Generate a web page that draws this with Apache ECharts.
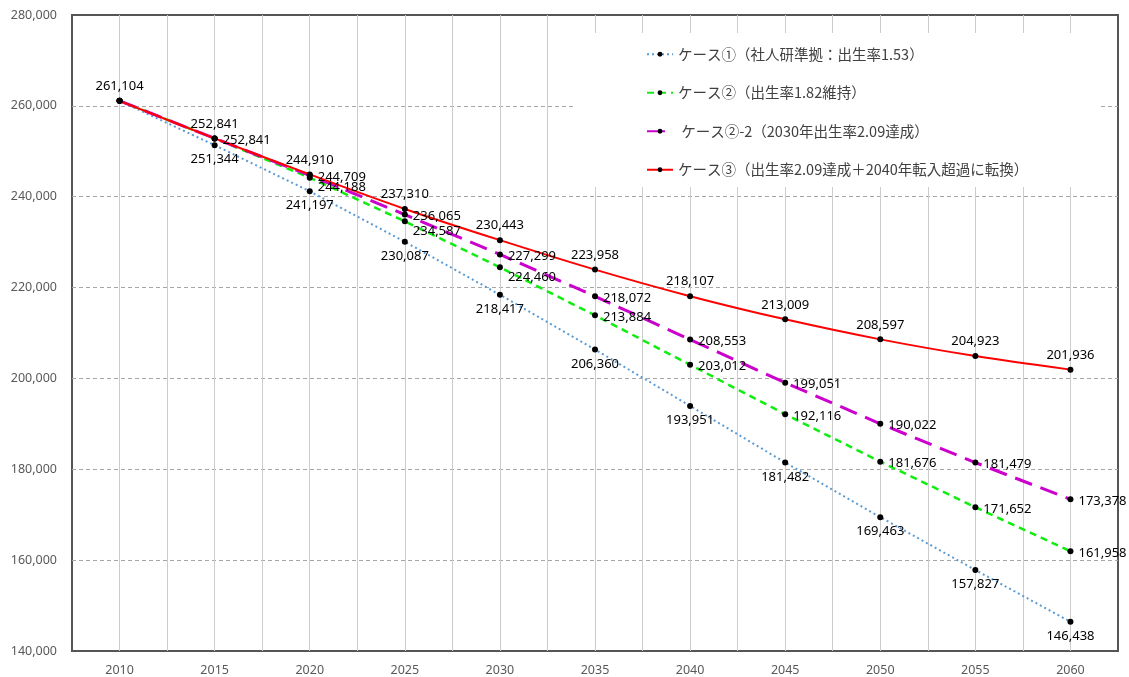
<!DOCTYPE html>
<html>
<head>
<meta charset="utf-8">
<script src="https://cdn.jsdelivr.net/npm/echarts@6/dist/echarts.min.js"></script>
<style>
  html, body { margin: 0; padding: 0; background: #fff; }
  #chart { width: 1129px; height: 677px; }
</style>
</head>
<body>
<div id="chart"></div>
<script>
// Projected population by scenario, 2010–2060
const years = [2010, 2015, 2020, 2025, 2030, 2035, 2040, 2045, 2050, 2055, 2060];

const case1Name = 'ケース①（社人研準拠：出生率1.53）';
const case2Name = 'ケース②（出生率1.82維持）';
const case22Name = ' ケース②-2（2030年出生率2.09達成）';
const case3Name = 'ケース③（出生率2.09達成＋2040年転入超過に転換）';

const case1 = [261104, 251344, 241197, 230087, 218417, 206360, 193951, 181482, 169463, 157827, 146438];
const case2 = [261104, 252841, 244188, 234587, 224460, 213884, 203012, 192116, 181676, 171652, 161958];
const case22 = [261104, 252841, 244709, 236065, 227299, 218072, 208553, 199051, 190022, 181479, 173378];
const case3 = [261104, 252841, 244910, 237310, 230443, 223958, 218107, 213009, 208597, 204923, 201936];

const yMin = 140000, yMax = 280000, yStep = 20000;

const fmt = v => v.toLocaleString('en-US');
const labelFont = { fontFamily: 'Noto Sans', fontSize: 13, color: '#000' };

// build [year, value] points; labelFor(i) returns the per-point label config
function points(values, labelFor) {
  return values.map((v, i) => ({ value: [years[i], v], label: labelFor(i) }));
}

function lineSeries(name, values, color, width, dash, labelFor, extra) {
  return Object.assign({
    name: name,
    type: 'line',
    data: points(values, labelFor),
    color: color,
    symbol: 'circle',
    symbolSize: 6,
    itemStyle: { color: '#000' },
    lineStyle: { color: color, width: width, type: dash },
    label: Object.assign({ formatter: p => fmt(p.value[1]) }, labelFont),
    emphasis: { disabled: true },
    animation: false
  }, extra || {});
}

const series = [
  lineSeries(case1Name, case1, '#5b9bd5', 2, [2, 3],
    i => ({ show: i > 0, position: 'bottom' })),
  lineSeries(case2Name, case2, '#10ee10', 2.5, [7, 5],
    i => ({ show: i > 1, position: 'right', offset: [0, (i >= 2 && i <= 4) ? 10 : 2] })),
  lineSeries(case22Name, case22, '#cc00cc', 3, [18, 9],
    i => ({ show: i > 0, position: 'right', offset: [0, 2] })),
  lineSeries(case3Name, case3, '#ff0000', 2, 'solid',
    i => ({ show: true, position: 'top' }), { smooth: 0.3 })
];

const chart = echarts.init(document.getElementById('chart'), null, { renderer: 'canvas' });
chart.setOption({
  backgroundColor: '#fff',
  animation: false,
  grid: {
    left: 72, right: 11, top: 15, bottom: 24,
    show: true, borderColor: '#555', borderWidth: 2, backgroundColor: 'transparent'
  },
  legend: {
    orient: 'vertical',
    left: 573, top: 33,
    padding: [14, 70, 10, 73],
    backgroundColor: '#fff',
    itemWidth: 26, itemHeight: 6, itemGap: 24,
    textStyle: { fontFamily: 'Noto Sans CJK JP', fontSize: 14.5, color: '#404040' },
    data: [case1Name, case2Name, case22Name, case3Name],
    selectedMode: false
  },
  xAxis: {
    type: 'value',
    min: 2007.5, max: 2062.5, interval: 2.5,
    axisLine: { show: false },
    axisTick: { show: false },
    splitLine: { show: true, showMinLine: false, showMaxLine: false, lineStyle: { color: '#cccccc', width: 1 } },
    axisLabel: {
      margin: 13,
      fontFamily: 'Noto Sans', fontSize: 12.5, color: '#595959',
      formatter: v => (v % 5 === 0 && v >= years[0] && v <= years[years.length - 1]) ? String(v) : ''
    }
  },
  yAxis: {
    type: 'value',
    min: yMin, max: yMax, interval: yStep,
    axisLine: { show: false },
    axisTick: { show: false },
    splitLine: { show: true, showMinLine: false, showMaxLine: false, lineStyle: { color: '#a6a6a6', width: 1, type: [4, 3] } },
    axisLabel: {
      margin: 15,
      fontFamily: 'Noto Sans', fontSize: 12.5, color: '#595959',
      formatter: v => fmt(v)
    }
  },
  series: series
});
</script>
</body>
</html>
